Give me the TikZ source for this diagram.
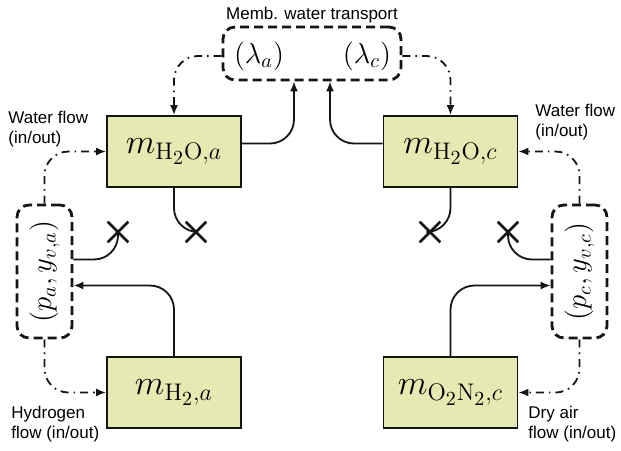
\documentclass[tikz,border=0pt]{standalone}
\usepackage{fontspec}
\newfontfamily\flowfont{Liberation Sans}
\usetikzlibrary{arrows.meta,shapes.misc,positioning}
\definecolor{Ink}{HTML}{151515}
\definecolor{BoxFill}{HTML}{E6E9B1}

\begin{document}
\begin{tikzpicture}[x=0.5pt,y=-0.5pt,
  every node/.style={font=\fontsize{8.5}{10}\selectfont\flowfont,align=left},
  statebox/.style={draw=Ink,fill=BoxFill,line width=0.9pt,minimum width=67pt,minimum height=35.5pt,font=\LARGE},
  parbox/.style={draw=Ink,line width=1.4pt,dash pattern=on 4.5pt off 2.5pt,rounded corners=6pt,font=\Large},
  flow/.style={draw=Ink,line width=0.9pt,rounded corners=12pt,-{Latex[length=5pt,width=4pt]}},
  ctrl/.style={flow,dash pattern=on 4pt off 2.5pt on 0.8pt off 2.5pt},
  sink/.style={draw=Ink,cross out,line width=1.3pt,minimum size=9pt,inner sep=0pt}]
  \useasboundingbox (0,0) rectangle (621,450);
  % membrane and channel parameters
  \node[parbox,minimum width=89pt,minimum height=26.5pt,
        label={[label distance=-2pt]above:Memb. water transport}] (memb) at (312,53.5) {};
  \node[font=\Large] (lama) at (259,56) {$(\lambda_a)$};
  \node[font=\Large] (lamc) at (367,56) {$(\lambda_c)$};
  \node[parbox,minimum width=27.5pt,minimum height=66.5pt] (pa) at (44.5,271.5) {\rotatebox{90}{$(p_a,y_{v,a})$}};
  \node[parbox,minimum width=27.5pt,minimum height=66.5pt] (pc) at (579.5,271.5) {\rotatebox{90}{$(p_c,y_{v,c})$}};
  % mass states
  \foreach \name/\x/\y/\txt in {h2oa/174/151.5/{$m_{\mathrm{H_2O},a}$},h2oc/450.5/151.5/{$m_{\mathrm{H_2O},c}$},
      h2a/174/392.5/{$m_{\mathrm{H_2},a}$},o2n2c/450.5/392.5/{$m_{\mathrm{O_2N_2},c}$}}
    \node[statebox] (\name) at (\x,\y) {\txt};
  \foreach \name/\x in {xa1/118,xa2/196,xc1/430,xc2/508}
    \node[sink] (\name) at (\x,232) {};
  % flow labels
  \node[anchor=north west,inner sep=0pt] (wfa) at (8,111) {Water flow\\(in/out)};
  \node[anchor=north west,inner sep=0pt] (wfc) at (535,104) {Water flow\\(in/out)};
  \node[anchor=north west,inner sep=0pt] (hfa) at (11,406) {Hydrogen\\flow (in/out)};
  \node[anchor=north west,inner sep=0pt] (dfc) at (528,406) {Dry air\\flow (in/out)};
  % membrane transport
  \draw[ctrl] (memb.west |- lama) -| (h2oa.north);
  \draw[ctrl] (memb.east |- lamc) -| (h2oc.north);
  \draw[flow] ([yshift=4pt]h2oa.east) -| ([xshift=-9pt]memb.south);
  \draw[flow] ([yshift=4pt]h2oc.west) -| ([xshift=9pt]memb.south);
  % channel flows
  \draw[ctrl] (pa.north) |- (h2oa.west);
  \draw[ctrl] (pc.north) |- (h2oc.east);
  \draw[ctrl] (pa.south) |- (h2a.west);
  \draw[ctrl] (pc.south) |- (o2n2c.east);
  \draw[flow] (h2a.north) |- ([yshift=-7pt]pa.east);
  \draw[flow] (o2n2c.north) |- ([yshift=-7pt]pc.west);
  % outlets
  \draw[flow,-] (h2oa.south) |- (xa2.center);
  \draw[flow,-] (h2oc.south) |- (xc1.center);
  \draw[flow,-] ([yshift=6pt]pa.east) -| (xa1.center);
  \draw[flow,-] ([yshift=6pt]pc.west) -| (xc2.center);
\end{tikzpicture}
\end{document}
